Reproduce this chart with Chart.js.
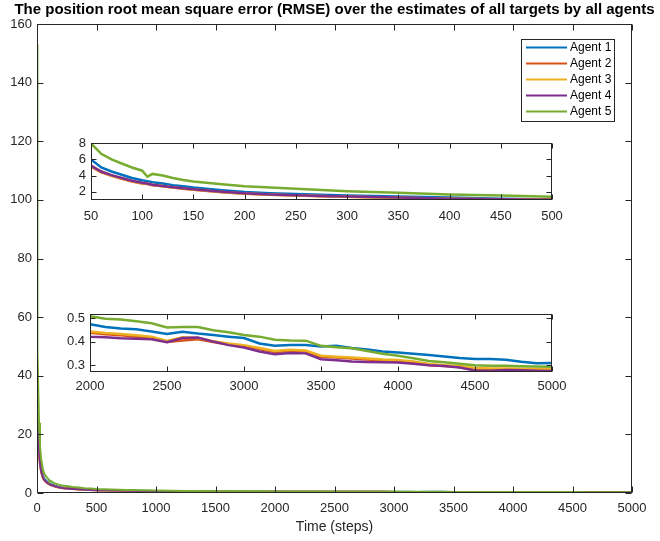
<!DOCTYPE html>
<html><head><meta charset="utf-8">
<script src="https://cdn.jsdelivr.net/npm/chart.js@4.4.1/dist/chart.umd.min.js"></script>
<style>
html,body{margin:0;padding:0;background:#fff;}
#wrap{position:relative;width:660px;height:541px;overflow:hidden;background:#fff;}
canvas{position:absolute;}
</style></head><body>
<div id="wrap">
<canvas id="main" width="660" height="541" style="left:0;top:0"></canvas>
<canvas id="in1" width="526" height="97" style="left:51px;top:130px"></canvas>
<canvas id="in2" width="527" height="97" style="left:50px;top:300px"></canvas>
</div>
<script>
const chartTitle = 'The position root mean square error (RMSE) over the estimates of all targets by all agents';
const xAxisTitle = 'Time (steps)';
const agentNames = ['Agent 1', 'Agent 2', 'Agent 3', 'Agent 4', 'Agent 5'];
const agentColors = ['#0072BD', '#D95319', '#EDB120', '#7E2F8E', '#77AC30'];

const steps = [0,1,2,3,5,8,12,17,25,35,
  50,60,70,80,90,100,105,110,120,130,140,150,175,200,225,250,275,300,350,400,450,500,
  750,1000,1250,1500,1750,
  2000,2100,2200,2300,2400,2500,2600,2700,2800,2900,3000,3100,3200,3300,3400,3500,3600,3700,3800,3900,4000,4100,4200,4300,4400,4500,4600,4700,4800,4900,5000];

const agent1 = [40,38,35,33,29,25,20,15.5,11.5,8.3,
  6.0,5.0,4.5,4.1,3.7,3.4,3.3,3.15,3.0,2.8,2.65,2.5,2.2,1.95,1.8,1.7,1.6,1.5,1.38,1.25,1.12,1.02,
  0.82,0.70,0.60,0.54,0.50,
  0.474,0.462,0.456,0.452,0.443,0.432,0.442,0.434,0.428,0.421,0.415,0.392,0.382,0.385,0.386,0.379,0.382,0.373,0.366,0.358,0.354,0.348,0.343,0.337,0.330,0.326,0.326,0.323,0.314,0.308,0.309];
const agent2 = [34,32,30,28,25,21,17,13.5,9.8,7.1,
  5.1,4.4,3.95,3.6,3.25,3.0,2.95,2.8,2.65,2.5,2.35,2.22,1.95,1.72,1.6,1.5,1.42,1.35,1.22,1.1,1.02,0.97,
  0.77,0.63,0.54,0.49,0.46,
  0.438,0.431,0.427,0.421,0.415,0.398,0.405,0.410,0.398,0.388,0.381,0.368,0.356,0.360,0.358,0.336,0.332,0.328,0.324,0.320,0.318,0.312,0.301,0.296,0.292,0.285,0.283,0.283,0.281,0.280,0.279];
const agent3 = [34.5,32.5,30.5,28.5,25.5,21.5,17.5,13.8,10,7.2,
  5.2,4.5,4.0,3.65,3.3,3.05,3.0,2.85,2.68,2.52,2.38,2.25,1.98,1.75,1.62,1.52,1.44,1.37,1.24,1.12,1.03,0.98,
  0.78,0.64,0.55,0.50,0.47,
  0.443,0.436,0.432,0.427,0.421,0.403,0.418,0.415,0.402,0.392,0.385,0.373,0.360,0.365,0.362,0.340,0.336,0.332,0.328,0.324,0.322,0.316,0.305,0.300,0.296,0.288,0.286,0.286,0.285,0.284,0.283];
const agent4 = [35,33,31,29,26,22,18,14,10,7.3,
  5.25,4.5,4.05,3.7,3.35,3.1,3.0,2.85,2.7,2.55,2.4,2.28,2.0,1.78,1.65,1.55,1.46,1.38,1.25,1.12,1.03,0.98,
  0.78,0.63,0.54,0.48,0.45,
  0.421,0.418,0.414,0.412,0.410,0.397,0.415,0.417,0.400,0.385,0.375,0.358,0.346,0.352,0.350,0.325,0.321,0.316,0.313,0.312,0.311,0.306,0.300,0.296,0.290,0.277,0.276,0.279,0.278,0.276,0.275];
const agent5 = [153,140,120,100,72,48,33,24,16,11.5,
  8.0,6.7,6.0,5.5,5.0,4.6,3.85,4.2,4.0,3.7,3.45,3.25,2.95,2.65,2.5,2.35,2.2,2.05,1.85,1.65,1.5,1.35,
  1.0,0.82,0.70,0.62,0.56,
  0.507,0.497,0.494,0.486,0.478,0.460,0.462,0.462,0.448,0.440,0.428,0.421,0.408,0.405,0.404,0.382,0.376,0.372,0.360,0.348,0.340,0.329,0.318,0.312,0.306,0.300,0.298,0.297,0.295,0.294,0.293];

const mainXTicks = [0,500,1000,1500,2000,2500,3000,3500,4000,4500,5000];
const mainYTicks = [0,20,40,60,80,100,120,140,160];
const in1XTicks = [50,100,150,200,250,300,350,400,450,500];
const in1YTicks = [2,4,6,8];
const in2XTicks = [2000,2500,3000,3500,4000,4500,5000];
const in2YTicks = [0.3,0.4,0.5];

const allAgents = [agent1, agent2, agent3, agent4, agent5];

Chart.defaults.font.family = '"Liberation Sans", Arial, Helvetica, sans-serif';
Chart.defaults.color = '#262626';

const boxTicks = {
  id: 'boxTicks',
  beforeDatasetsDraw(chart) {
    const a = chart.chartArea, ctx = chart.ctx;
    ctx.save(); ctx.fillStyle = '#fff';
    ctx.fillRect(a.left, a.top, a.right - a.left, a.bottom - a.top);
    ctx.restore();
  },
  afterDatasetsDraw(chart, args, opts) {
    const {ctx, chartArea: a, scales: {x, y}} = chart;
    const len = opts.len || 5;
    const L = Math.round(a.left) + 0.5, R = Math.round(a.right) - 0.5;
    const T = Math.round(a.top) + 0.5, B = Math.round(a.bottom) - 0.5;
    ctx.save();
    ctx.strokeStyle = '#262626'; ctx.lineWidth = 1;
    ctx.beginPath();
    x.ticks.forEach(t => {
      const p = Math.round(x.getPixelForValue(t.value)) + 0.5;
      ctx.moveTo(p, B); ctx.lineTo(p, B - len);
      ctx.moveTo(p, T); ctx.lineTo(p, T + len);
    });
    y.ticks.forEach(t => {
      const p = Math.round(y.getPixelForValue(t.value)) + 0.5;
      ctx.moveTo(L, p); ctx.lineTo(L + len, p);
      ctx.moveTo(R, p); ctx.lineTo(R - len, p);
    });
    ctx.stroke();
    ctx.strokeRect(L, T, R - L, B - T);
    ctx.restore();
  }
};

const figTitle = {
  id: 'figTitle',
  afterDraw(chart, args, opts) {
    if (!opts.text) return;
    const {ctx, chartArea: a} = chart;
    ctx.save();
    ctx.font = 'bold 15px "Liberation Sans", Arial, Helvetica, sans-serif';
    ctx.fillStyle = '#000';
    ctx.textAlign = 'center'; ctx.textBaseline = 'middle';
    ctx.fillText(opts.text, (a.left + a.right) / 2, 10);
    ctx.restore();
  }
};

const boxLegend = {
  id: 'boxLegend',
  afterDraw(chart, args, opts) {
    if (!opts.show) return;
    const ctx = chart.ctx;
    const x0 = 521, y0 = 39, w = 93, h = 82;
    ctx.save();
    ctx.fillStyle = '#fff'; ctx.fillRect(x0, y0, w, h);
    ctx.strokeStyle = '#262626'; ctx.lineWidth = 1;
    ctx.strokeRect(x0 + 0.5, y0 + 0.5, w, h);
    ctx.font = '12px "Liberation Sans", Arial, Helvetica, sans-serif';
    ctx.textBaseline = 'middle'; ctx.textAlign = 'left';
    chart.data.datasets.forEach((ds, i) => {
      const yy = 47.5 + i * 16;
      ctx.strokeStyle = ds.borderColor; ctx.lineWidth = 2;
      ctx.beginPath(); ctx.moveTo(526, yy); ctx.lineTo(567, yy); ctx.stroke();
      ctx.fillStyle = '#000';
      ctx.fillText(ds.label, 570, yy + 0.5);
    });
    ctx.restore();
  }
};

function makeDatasets(lw) {
  return allAgents.map((vals, i) => ({
    label: agentNames[i],
    data: steps.map((s, k) => ({x: s, y: vals[k]})),
    borderColor: agentColors[i],
    backgroundColor: agentColors[i],
    borderWidth: lw,
    pointRadius: 0,
    tension: 0,
    order: 4 - i
  }));
}

function makeChart(id, cfg) {
  return new Chart(document.getElementById(id), {
    type: 'line',
    data: {datasets: makeDatasets(cfg.lw)},
    options: {
      responsive: false,
      animation: false,
      events: [],
      devicePixelRatio: 1,
      layout: {padding: cfg.padding},
      plugins: {
        legend: {display: false},
        tooltip: {enabled: false},
        title: {display: false},
        figTitle: {text: cfg.title || ''},
        boxTicks: {len: cfg.tickLen},
        boxLegend: {show: !!cfg.legend}
      },
      scales: {
        x: {
          type: 'linear', min: cfg.xMin, max: cfg.xMax,
          grid: {display: false, drawTicks: false}, border: {display: false},
          afterBuildTicks: s => { s.ticks = cfg.xTicks.map(v => ({value: v})); },
          afterFit: s => { s.height = cfg.xH; },
          ticks: {autoSkip: false, maxRotation: 0, minRotation: 0, padding: cfg.xPad,
            font: {size: 13}, color: '#262626', callback: v => String(v)},
          title: cfg.xTitle ? {display: true, text: cfg.xTitle, color: '#262626',
            font: {size: 14}, padding: {top: 0, bottom: 5}} : {display: false}
        },
        y: {
          type: 'linear', min: cfg.yMin, max: cfg.yMax,
          grid: {display: false, drawTicks: false}, border: {display: false},
          afterBuildTicks: s => { s.ticks = cfg.yTicks.map(v => ({value: v})); },
          afterFit: s => { s.width = cfg.yW; },
          ticks: {autoSkip: false, padding: 5, font: {size: 13}, color: '#262626',
            callback: v => String(v)}
        }
      }
    },
    plugins: [boxTicks, figTitle, boxLegend]
  });
}

makeChart('main', {
  xMin: 0, xMax: 5000, yMin: 0, yMax: 160,
  xTicks: mainXTicks, yTicks: mainYTicks,
  xH: 48, yW: 37, xPad: 8, tickLen: 6, lw: 2,
  padding: {left: 0, right: 28, top: 24, bottom: 0},
  title: chartTitle, xTitle: xAxisTitle, legend: true
});
makeChart('in1', {
  xMin: 50, xMax: 500, yMin: 0.95, yMax: 8.05,
  xTicks: in1XTicks, yTicks: in1YTicks,
  xH: 27, yW: 40, xPad: 9, tickLen: 5, lw: 2.5,
  padding: {left: 0, right: 25, top: 13, bottom: 0}
});
makeChart('in2', {
  xMin: 2000, xMax: 5000, yMin: 0.271, yMax: 0.517,
  xTicks: in2XTicks, yTicks: in2YTicks,
  xH: 25, yW: 40, xPad: 7, tickLen: 5, lw: 2.5,
  padding: {left: 0, right: 25, top: 14, bottom: 0}
});
</script>
</body></html>
